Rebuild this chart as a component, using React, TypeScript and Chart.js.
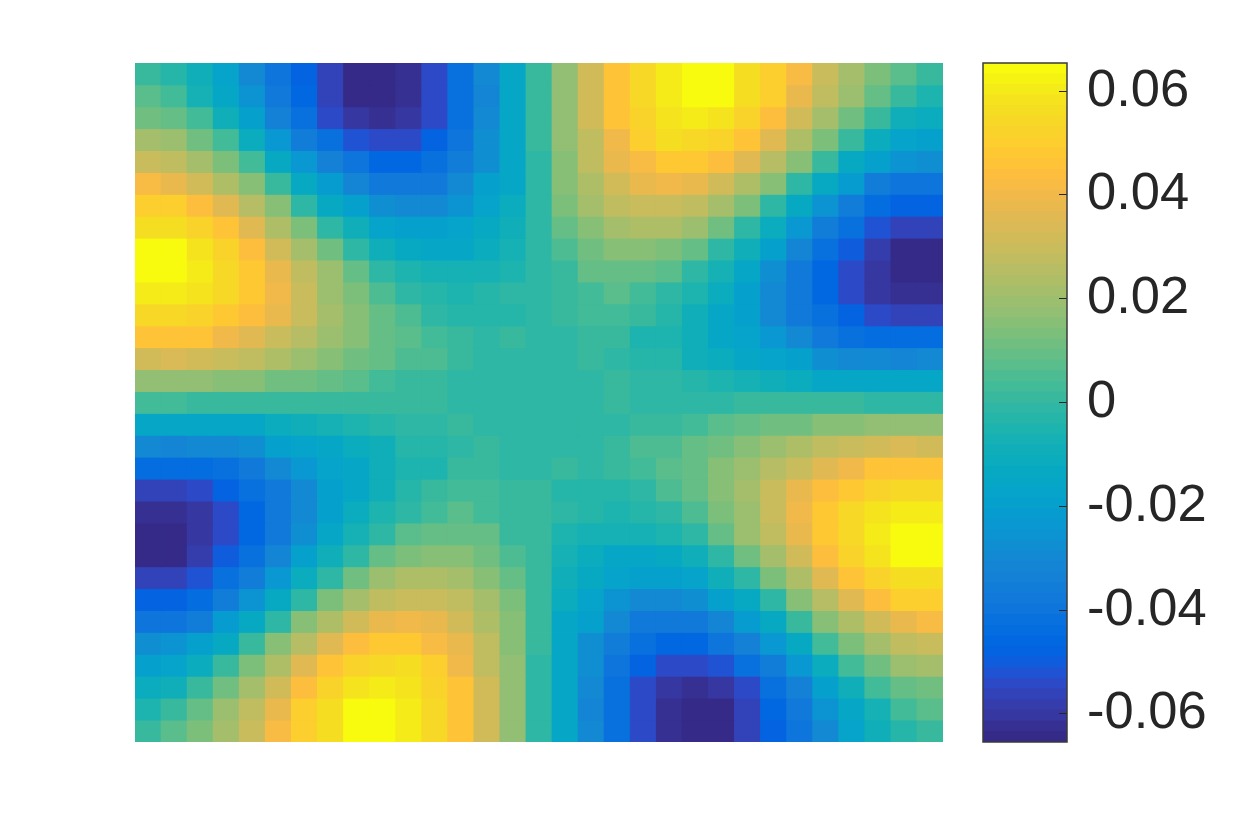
import React, { useEffect, useRef } from "react";
import Chart from "chart.js/auto";

// Cell values in thousandths, top row first.
const row00 = [2,-3,-9,-17,-29,-39,-47,-56,-64,-64,-61,-54,-42,-29,-14,2,18,32,46,54,61,64,64,57,51,42,30,21,14,7,2];
const row01 = [7,3,-6,-15,-25,-38,-46,-55,-64,-64,-61,-54,-42,-31,-14,2,18,33,46,54,61,64,64,57,51,39,29,19,9,2,-4];
const row02 = [12,9,3,-8,-20,-34,-42,-53,-59,-61,-59,-54,-42,-30,-14,2,18,32,46,53,58,60,59,53,44,33,22,12,2,-8,-11];
const row03 = [21,19,12,3,-11,-23,-35,-42,-51,-54,-54,-47,-40,-28,-14,2,17,29,41,51,56,55,53,46,36,23,14,2,-10,-16,-18];
const row04 = [31,29,22,14,3,-13,-23,-34,-39,-45,-45,-41,-36,-27,-14,0,16,28,38,43,48,48,44,36,26,16,2,-12,-19,-25,-28];
const row05 = [42,39,33,24,16,1,-13,-21,-31,-37,-38,-38,-29,-20,-14,0,15,24,32,38,40,38,32,23,16,0,-13,-22,-35,-39,-40];
const row06 = [50,50,44,36,26,16,0,-12,-18,-27,-29,-29,-25,-17,-11,0,13,21,27,30,30,28,22,14,0,-13,-25,-35,-43,-47,-47];
const row07 = [56,56,53,46,36,24,14,0,-9,-16,-19,-19,-17,-13,-9,0,10,16,21,23,23,19,12,0,-10,-24,-35,-42,-52,-56,-56];
const row08 = [64,64,59,52,44,32,22,11,0,-8,-12,-14,-14,-10,-7,0,6,12,16,16,14,10,0,-9,-18,-31,-42,-50,-58,-64,-64];
const row09 = [65,65,60,54,48,38,28,19,10,-1,-5,-7,-7,-7,-5,0,2,9,9,9,7,-1,-6,-15,-27,-37,-45,-54,-60,-64,-64];
const row10 = [61,61,58,54,48,40,30,20,14,6,-1,-3,-5,-3,-1,0,1,4,7,4,0,-5,-11,-18,-29,-37,-45,-54,-60,-62,-62];
const row11 = [54,54,53,49,44,38,30,22,16,10,5,0,-3,-3,-3,0,1,4,4,2,-3,-9,-14,-18,-29,-38,-41,-47,-53,-55,-55];
const row12 = [46,46,46,41,37,31,26,20,16,10,7,3,2,0,1,0,0,2,2,-4,-5,-8,-14,-16,-24,-30,-37,-41,-43,-43,-43];
const row13 = [32,34,32,30,28,23,20,16,12,10,5,5,2,0,0,0,0,2,0,-3,-3,-9,-10,-14,-16,-20,-27,-29,-29,-32,-29];
const row14 = [18,18,18,16,15,12,11,9,7,4,2,2,0,0,0,0,0,0,1,0,0,-3,-5,-7,-9,-11,-14,-14,-14,-14,-14];
const row15 = [3,3,1,1,1,1,1,1,1,2,2,2,0,0,0,0,0,0,2,0,0,0,0,2,2,2,2,2,0,0,0];
const row16 = [-14,-14,-14,-14,-14,-11,-9,-7,-5,-3,0,0,1,0,0,0,0,0,0,2,2,4,7,9,11,12,15,16,18,18,18];
const row17 = [-29,-32,-29,-29,-27,-20,-16,-14,-10,-9,-3,-3,0,2,0,0,0,0,2,5,5,10,12,16,20,23,28,30,32,34,32];
const row18 = [-43,-43,-43,-41,-37,-30,-24,-16,-14,-8,-5,-4,2,2,0,0,1,0,2,3,7,10,16,20,26,31,37,41,46,46,46];
const row19 = [-55,-55,-53,-47,-41,-38,-29,-18,-14,-9,-3,2,4,4,1,2,-3,-3,-3,0,5,10,16,22,30,38,44,49,53,54,54];
const row20 = [-62,-62,-60,-54,-45,-37,-29,-18,-11,-5,0,4,7,4,1,2,-1,-3,-5,-3,-1,6,14,20,30,40,48,54,58,61,61];
const row21 = [-64,-64,-60,-54,-45,-37,-27,-15,-6,-1,7,9,9,9,2,2,-5,-7,-7,-7,-5,-1,10,19,28,38,48,54,60,65,65];
const row22 = [-64,-64,-58,-50,-42,-31,-18,-9,0,10,14,16,16,12,6,2,-7,-10,-14,-14,-12,-8,0,11,22,32,44,52,59,64,64];
const row23 = [-56,-56,-52,-42,-35,-24,-10,0,12,19,23,23,21,16,10,2,-9,-13,-17,-19,-19,-16,-9,0,14,24,36,46,53,56,56];
const row24 = [-47,-47,-43,-35,-25,-13,0,14,22,28,30,30,27,21,13,2,-11,-17,-25,-29,-29,-27,-18,-12,0,16,26,36,44,50,50];
const row25 = [-40,-39,-35,-22,-13,0,16,23,32,38,40,38,32,24,15,2,-14,-20,-29,-38,-38,-37,-31,-21,-13,1,16,24,33,39,42];
const row26 = [-28,-25,-19,-12,2,16,26,36,44,48,48,43,38,28,16,2,-14,-27,-36,-41,-45,-45,-39,-34,-23,-13,3,14,22,29,31];
const row27 = [-18,-16,-10,2,14,23,36,46,53,55,56,51,41,29,17,0,-14,-28,-40,-47,-54,-54,-51,-42,-35,-23,-11,3,12,19,21];
const row28 = [-11,-8,2,12,22,33,44,53,59,60,58,53,46,32,18,0,-14,-30,-42,-54,-59,-61,-59,-53,-42,-34,-20,-8,3,9,12];
const row29 = [-4,2,9,19,29,39,51,57,64,64,61,54,46,33,18,0,-14,-31,-42,-54,-61,-64,-64,-55,-46,-38,-25,-15,-6,3,7];
const row30 = [2,7,14,21,30,42,51,57,64,64,61,54,46,32,18,0,-14,-29,-42,-54,-61,-64,-64,-56,-47,-39,-29,-17,-9,-3,2];

const cellRows = [
  row00,row01,row02,row03,row04,row05,row06,row07,row08,row09,row10,row11,row12,row13,row14,row15,
  row16,row17,row18,row19,row20,row21,row22,row23,row24,row25,row26,row27,row28,row29,row30,
];

const colorbarTicks = [-0.06, -0.04, -0.02, 0, 0.02, 0.04, 0.06];

const parula = [
  [0.2081,0.1663,0.5292],[0.2116,0.1898,0.5777],[0.2123,0.2138,0.6270],[0.2081,0.2386,0.6771],
  [0.1959,0.2645,0.7279],[0.1707,0.2919,0.7792],[0.1253,0.3242,0.8303],[0.0591,0.3598,0.8683],
  [0.0117,0.3875,0.8820],[0.0060,0.4086,0.8828],[0.0165,0.4266,0.8786],[0.0329,0.4430,0.8720],
  [0.0498,0.4586,0.8641],[0.0629,0.4737,0.8554],[0.0723,0.4887,0.8467],[0.0779,0.5040,0.8384],
  [0.0793,0.5200,0.8312],[0.0749,0.5375,0.8263],[0.0641,0.5570,0.8240],[0.0488,0.5772,0.8228],
  [0.0343,0.5966,0.8199],[0.0265,0.6137,0.8135],[0.0239,0.6287,0.8038],[0.0231,0.6418,0.7913],
  [0.0228,0.6535,0.7768],[0.0267,0.6642,0.7607],[0.0384,0.6743,0.7436],[0.0590,0.6838,0.7254],
  [0.0843,0.6928,0.7062],[0.1133,0.7015,0.6859],[0.1453,0.7098,0.6646],[0.1801,0.7177,0.6424],
  [0.2178,0.7250,0.6193],[0.2586,0.7317,0.5954],[0.3022,0.7376,0.5712],[0.3482,0.7424,0.5473],
  [0.3953,0.7459,0.5244],[0.4420,0.7481,0.5033],[0.4871,0.7491,0.4840],[0.5300,0.7491,0.4661],
  [0.5709,0.7485,0.4494],[0.6099,0.7473,0.4337],[0.6473,0.7456,0.4188],[0.6834,0.7435,0.4044],
  [0.7184,0.7411,0.3905],[0.7525,0.7384,0.3768],[0.7858,0.7356,0.3633],[0.8185,0.7327,0.3498],
  [0.8507,0.7299,0.3360],[0.8824,0.7274,0.3217],[0.9139,0.7258,0.3063],[0.9450,0.7261,0.2886],
  [0.9739,0.7314,0.2666],[0.9938,0.7455,0.2403],[0.9990,0.7653,0.2164],[0.9955,0.7861,0.1967],
  [0.9880,0.8066,0.1794],[0.9789,0.8271,0.1633],[0.9697,0.8481,0.1475],[0.9626,0.8705,0.1309],
  [0.9589,0.8949,0.1132],[0.9598,0.9218,0.0948],[0.9661,0.9514,0.0755],[0.9763,0.9831,0.0538],
];

const AXIS_LIMIT = 0.0654;
const TEXT = "#262626";
const W = 1250;
const H = 833;

const toCss = (c: number[]) =>
  `rgb(${Math.round(c[0] * 255)},${Math.round(c[1] * 255)},${Math.round(c[2] * 255)})`;

function colorOf(milli: number) {
  const idx = Math.floor(((milli + 65) / 130.8) * 64);
  return toCss(parula[Math.max(0, Math.min(63, idx))]);
}

const boxPlugin = {
  id: "box",
  afterDraw(chart: any) {
    const { ctx, chartArea: a } = chart;
    ctx.save();
    ctx.strokeStyle = "#3a3a3a";
    ctx.lineWidth = 1.5;
    ctx.strokeRect(a.left, a.top, a.right - a.left, a.bottom - a.top);
    ctx.restore();
  },
};

const canvasStyle: React.CSSProperties = { position: "absolute", left: 0, top: 0 };

export default function App() {
  const heatRef = useRef<HTMLCanvasElement>(null);
  const barRef = useRef<HTMLCanvasElement>(null);

  useEffect(() => {
    const columns = row00.map((_, i) => String(i + 1));
    const heat = new Chart(heatRef.current!, {
      type: "bar",
      data: {
        labels: columns,
        datasets: cellRows.map((values, r) => ({
          data: values.map(() => [r, r + 1]),
          backgroundColor: values.map(colorOf),
          borderWidth: 0,
          grouped: false,
          barPercentage: 1,
          categoryPercentage: 1,
          inflateAmount: 0.4,
        })) as any,
      },
      options: {
        animation: false,
        responsive: false,
        layout: { padding: { left: 135, right: W - 943, top: 63, bottom: H - 742 } },
        plugins: { legend: { display: false }, tooltip: { enabled: false } },
        scales: {
          x: { display: false },
          y: { display: false, reverse: true, min: 0, max: cellRows.length },
        },
      },
    });

    // Earlier datasets paint on top, so each level runs from the bottom of the
    // bar up to its own top edge and no seam can open between two levels.
    const step = (2 * AXIS_LIMIT) / parula.length;
    const bar = new Chart(barRef.current!, {
      type: "bar",
      data: {
        labels: [""],
        datasets: parula.map((c, i) => ({
          data: [[-AXIS_LIMIT, -AXIS_LIMIT + (i + 1) * step]],
          backgroundColor: toCss(c),
          borderWidth: 0,
          grouped: false,
          barPercentage: 1,
          categoryPercentage: 1,
        })) as any,
      },
      options: {
        animation: false,
        responsive: false,
        layout: { padding: { left: 983, right: 0, top: 63, bottom: H - 742 } },
        plugins: { legend: { display: false }, tooltip: { enabled: false } },
        scales: {
          x: { display: false },
          y: {
            position: "right",
            min: -AXIS_LIMIT,
            max: AXIS_LIMIT,
            afterBuildTicks: (s: any) => {
              s.ticks = colorbarTicks.map((value) => ({ value }));
            },
            afterFit: (s: any) => {
              s.width = W - 1067;
            },
            border: { display: false },
            grid: {
              z: 1,
              drawOnChartArea: false,
              drawTicks: true,
              tickLength: -8,
              tickWidth: 1,
              tickColor: TEXT,
            },
            ticks: {
              z: 2,
              autoSkip: false,
              maxRotation: 0,
              crossAlign: "near",
              padding: 28,
              color: TEXT,
              font: { family: "'Liberation Sans'", size: 52.5 },
              callback: (v: any) => String(v),
            },
          },
        },
      },
      plugins: [boxPlugin],
    });

    return () => {
      heat.destroy();
      bar.destroy();
    };
  }, []);

  return (
    <div style={{ position: "absolute", left: 0, top: 0, width: W, height: H, background: "#fff" }}>
      <canvas ref={heatRef} width={W} height={H} style={canvasStyle} />
      <canvas ref={barRef} width={W} height={H} style={canvasStyle} />
    </div>
  );
}
